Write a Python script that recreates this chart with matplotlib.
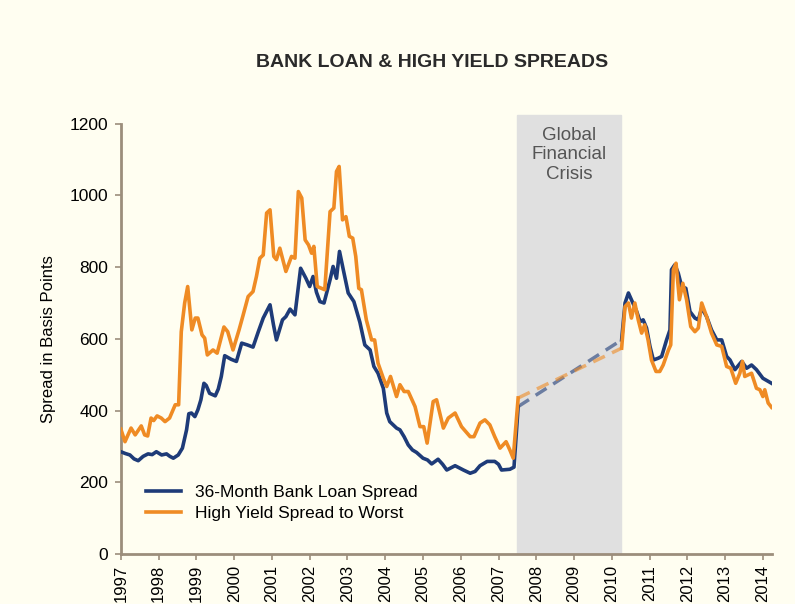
import matplotlib
matplotlib.use('Agg')
import matplotlib.pyplot as plt

# colours
BG = '#FFFEF1'
BLUE = '#1E3B78'
ORANGE = '#EF8B24'
SPINE = '#9C8E7C'

# crisis window (year fractions)
crisis = [2007.5, 2010.25]

# 36-month bank loan spread, before the crisis
loan_pre_t = [1997.00, 1997.12, 1997.24, 1997.35, 1997.46, 1997.59, 1997.72, 1997.83, 1997.94,
              1998.08, 1998.21, 1998.30, 1998.39, 1998.52, 1998.63, 1998.74, 1998.80, 1998.87,
              1998.96, 1999.04, 1999.12, 1999.20, 1999.26, 1999.35, 1999.50, 1999.58, 1999.66,
              1999.75, 1999.92, 2000.06, 2000.20, 2000.35, 2000.50, 2000.64, 2000.77, 2000.95,
              2001.04, 2001.12, 2001.28, 2001.37, 2001.48, 2001.61, 2001.76, 2001.90, 2002.00,
              2002.09, 2002.18, 2002.27, 2002.38, 2002.54, 2002.62, 2002.71, 2002.79, 2002.89,
              2003.02, 2003.17, 2003.33, 2003.46, 2003.60, 2003.70, 2003.81, 2003.95, 2004.04,
              2004.12, 2004.30, 2004.39, 2004.50, 2004.61, 2004.72, 2004.83, 2005.00, 2005.12,
              2005.23, 2005.40, 2005.52, 2005.63, 2005.85, 2006.07, 2006.25, 2006.38, 2006.51,
              2006.70, 2006.90, 2007.00, 2007.08, 2007.30, 2007.41, 2007.52]
loan_pre_v = [285, 280, 276, 265, 260, 272, 279, 277, 285,
              276, 279, 272, 267, 276, 295, 346, 391, 393,
              383, 402, 430, 476, 470, 448, 441, 460, 495,
              553, 543, 537, 588, 583, 577, 620, 658, 695,
              640, 597, 653, 662, 683, 667, 797, 769, 746,
              774, 730, 704, 700, 765, 802, 769, 844, 793,
              728, 704, 646, 583, 569, 523, 504, 462, 393,
              369, 351, 346, 327, 304, 290, 283, 267, 262,
              251, 264, 250, 234, 246, 234, 225, 230, 246,
              258, 258, 250, 234, 236, 242, 411]

# high yield spread to worst, before the crisis
hy_pre_t = [1997.00, 1997.11, 1997.27, 1997.38, 1997.54, 1997.63, 1997.71, 1997.80, 1997.87,
            1997.96, 1998.07, 1998.17, 1998.29, 1998.44, 1998.53, 1998.60, 1998.69, 1998.77,
            1998.88, 1998.97, 1999.04, 1999.15, 1999.22, 1999.29, 1999.44, 1999.55, 1999.73,
            1999.83, 1999.97, 2000.13, 2000.24, 2000.37, 2000.50, 2000.59, 2000.68, 2000.77,
            2000.86, 2000.95, 2001.05, 2001.12, 2001.21, 2001.37, 2001.52, 2001.61, 2001.70,
            2001.79, 2001.88, 2001.97, 2002.05, 2002.11, 2002.20, 2002.40, 2002.54, 2002.64,
            2002.71, 2002.78, 2002.87, 2002.96, 2003.05, 2003.14, 2003.22, 2003.30, 2003.37,
            2003.50, 2003.64, 2003.72, 2003.81, 2003.95, 2004.04, 2004.14, 2004.30, 2004.39,
            2004.50, 2004.61, 2004.79, 2004.92, 2005.02, 2005.11, 2005.27, 2005.36, 2005.54,
            2005.67, 2005.85, 2006.02, 2006.25, 2006.35, 2006.51, 2006.64, 2006.77, 2006.90,
            2007.04, 2007.20, 2007.30, 2007.39, 2007.52]
hy_pre_v = [348, 313, 351, 332, 357, 332, 329, 379, 372,
            385, 379, 369, 379, 416, 416, 620, 700, 746,
            625, 658, 658, 611, 602, 555, 569, 560, 633,
            620, 569, 625, 667, 718, 732, 774, 825, 834,
            951, 960, 830, 821, 853, 788, 830, 825, 1011,
            993, 876, 862, 839, 858, 746, 737, 955, 965,
            1067, 1081, 932, 941, 886, 881, 830, 741, 737,
            653, 597, 597, 532, 490, 467, 495, 439, 472,
            453, 453, 411, 355, 355, 309, 425, 430, 351,
            379, 393, 355, 327, 327, 365, 374, 360, 327,
            295, 313, 290, 267, 435]

# after the crisis
loan_post_t = [2010.26, 2010.35, 2010.44, 2010.52, 2010.66, 2010.75, 2010.83, 2010.92, 2011.01,
               2011.10, 2011.23, 2011.32, 2011.45, 2011.54, 2011.58, 2011.67, 2011.76, 2011.85,
               2011.96, 2012.07, 2012.20, 2012.29, 2012.38, 2012.51, 2012.64, 2012.78, 2012.91,
               2013.04, 2013.13, 2013.26, 2013.44, 2013.57, 2013.70, 2013.83, 2014.00, 2014.23]
loan_post_v = [597, 700, 728, 709, 676, 648, 653, 630, 579,
               541, 546, 551, 597, 625, 793, 807, 783, 746,
               741, 676, 658, 653, 686, 662, 625, 597, 597,
               551, 541, 514, 537, 518, 527, 514, 490, 476]

hy_post_t = [2010.26, 2010.35, 2010.44, 2010.52, 2010.61, 2010.70, 2010.79, 2010.87, 2010.96,
             2011.05, 2011.17, 2011.27, 2011.36, 2011.50, 2011.56, 2011.63, 2011.70, 2011.79,
             2011.88, 2011.98, 2012.09, 2012.20, 2012.29, 2012.38, 2012.51, 2012.64, 2012.78,
             2012.91, 2013.04, 2013.15, 2013.28, 2013.39, 2013.46, 2013.52, 2013.70, 2013.83,
             2013.92, 2014.00, 2014.05, 2014.14, 2014.23]
hy_post_v = [574, 690, 700, 658, 700, 653, 616, 639, 597,
             541, 509, 509, 527, 569, 583, 793, 811, 709,
             755, 709, 634, 620, 630, 700, 662, 616, 583,
             579, 523, 518, 476, 504, 537, 495, 504, 462,
             458, 439, 458, 421, 409]

years = list(range(1997, 2015))
yticks = [0, 200, 400, 600, 800, 1000, 1200]

plt.rcParams['font.family'] = ['Liberation Sans', 'DejaVu Sans']

fig = plt.figure(figsize=(7.95, 6.04), dpi=100, facecolor=BG)
ax = fig.add_axes([0.152, 0.083, 0.819, 0.712])
ax.set_facecolor(BG)

# crisis band, reaching a bit above the axis top
ax.axvspan(crisis[0], crisis[1], ymin=0, ymax=1.02, color='#E0E0E0', zorder=0, clip_on=False)
ax.text(sum(crisis) / 2, 1192, 'Global\nFinancial\nCrisis', ha='center', va='top',
        fontsize=13.5, color='#555555', linespacing=1.2)

# dashed bridge over the crisis
ax.plot([loan_pre_t[-1], loan_post_t[0]], [loan_pre_v[-1], loan_post_v[0]],
        color=BLUE, alpha=0.6, lw=2.5, dashes=(3.7, 2.3), zorder=2)
ax.plot([hy_pre_t[-1], hy_post_t[0]], [hy_pre_v[-1], hy_post_v[0]],
        color=ORANGE, alpha=0.6, lw=2.5, dashes=(3.7, 2.3), zorder=2)

ax.plot(loan_pre_t, loan_pre_v, color=BLUE, lw=2.6, zorder=3, label='36-Month Bank Loan Spread')
ax.plot(loan_post_t, loan_post_v, color=BLUE, lw=2.6, zorder=3)
ax.plot(hy_pre_t, hy_pre_v, color=ORANGE, lw=2.6, zorder=4, label='High Yield Spread to Worst')
ax.plot(hy_post_t, hy_post_v, color=ORANGE, lw=2.6, zorder=4)

ax.set_xlim(1997, 2014.24)
ax.set_ylim(0, 1200)
ax.set_xticks(years)
ax.set_xticklabels([str(y) for y in years], rotation=90, fontsize=12)
ax.set_yticks(yticks)
ax.set_yticklabels([str(v) for v in yticks], fontsize=12.5)
ax.tick_params(axis='both', color=SPINE, width=1.2, length=4, direction='out')
ax.tick_params(axis='x', pad=4)
ax.tick_params(axis='y', pad=5)

for side in ['top', 'right']:
    ax.spines[side].set_visible(False)
for side in ['left', 'bottom']:
    ax.spines[side].set_color(SPINE)
    ax.spines[side].set_linewidth(2)

ax.set_ylabel('Spread in Basis Points', fontsize=12, labelpad=10)

ax.legend(loc='center left', bbox_to_anchor=(0.015, 0.118), frameon=False, fontsize=12.5,
          handlelength=2.0, handletextpad=0.8, labelspacing=0.35)

fig.text(0.543, 0.897, 'BANK LOAN & HIGH YIELD SPREADS', ha='center', va='center',
         fontsize=14, color='#2A2A2A', fontweight='semibold')

fig.savefig('out.png', dpi=100, facecolor=BG)
